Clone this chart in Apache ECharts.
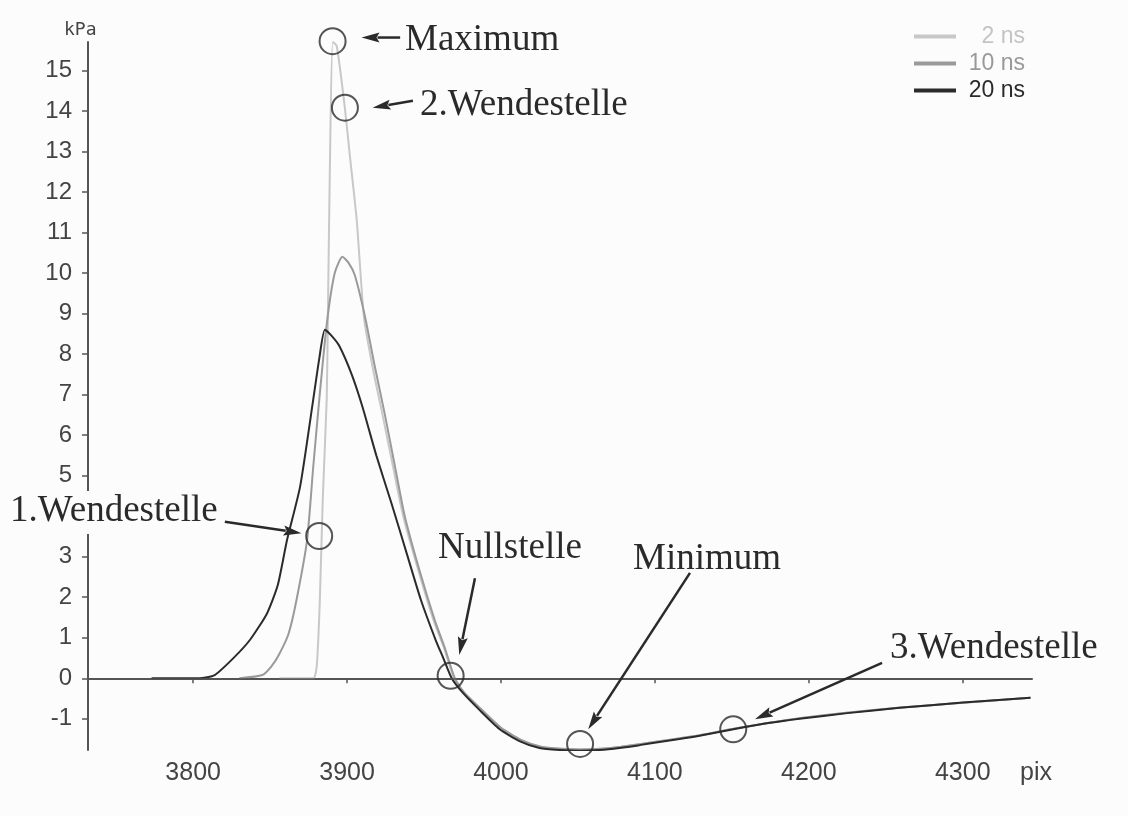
<!DOCTYPE html>
<html><head><meta charset="utf-8">
<script src="https://cdn.jsdelivr.net/npm/echarts@6/dist/echarts.min.js"></script>
<style>html,body{margin:0;padding:0;background:#fcfcfc}#c{width:1128px;height:816px}</style>
</head><body><div id="c"></div>
<script>
// ---- data (x in pix, y in kPa) ----
const xTicks = [3800, 3900, 4000, 4100, 4200, 4300];
const yTicks = [-1, 0, 1, 2, 3, 5, 6, 7, 8, 9, 10, 11, 12, 13, 14, 15];
const yTickMarks = [-1, 0, 1, 2, 3, 4, 5, 6, 7, 8, 9, 10, 11, 12, 13, 14, 15];

const ns20 = [
  [3773,0],[3804,0],[3814,0.08],[3826,0.49],[3837,0.95],[3848,1.6],[3855,2.3],[3861,3.41],
  [3869.5,4.73],[3878,6.87],[3882,7.9],[3885.6,8.6],[3890,8.45],[3895,8.2],[3903,7.5],[3910,6.7],
  [3919,5.5],[3929,4.3],[3939,3.05],[3948,1.93],[3957.5,0.95],[3962.5,0.5],
  [3968,0],[3975,-0.35],[3986,-0.78],[3999,-1.25],[4012,-1.55],[4025,-1.72],
  [4038,-1.77],[4051,-1.79],[4064,-1.77],[4077,-1.72],[4090,-1.65],[4103,-1.57],[4116,-1.5],
  [4129,-1.42],[4151,-1.26],[4175,-1.1],[4194,-1.0],[4225,-0.86],[4259,-0.73],[4300,-0.6],[4344,-0.48]
];
const ns10 = [
  [3830,0],[3845,0.08],[3851,0.3],[3856,0.6],[3862,1.1],[3867,1.9],[3874,3.4],[3878,5.2],
  [3882,6.9],[3887,8.8],[3892,10.0],[3897,10.4],[3901,10.25],[3905,9.95],[3911.5,8.95],[3918,7.7],
  [3924.6,6.5],[3931,5.25],[3937.5,4.0],[3947,2.67],[3957,1.43],[3963.5,0.75],[3970,0],[3976,-0.35],
  [3987,-0.76],[4000,-1.22],[4013,-1.52],[4026,-1.69],[4039,-1.74],[4052,-1.76],[4065,-1.74],
  [4078,-1.69],[4104,-1.55],[4130,-1.4],[4152,-1.24],[4195,-0.98],[4260,-0.72],[4344,-0.48]
];
const ns2 = [
  [3856,0],[3878,0],[3880.3,0.3],[3882.3,1.9],[3884.2,4.4],[3886.8,6.9],[3887.5,8.8],
  [3888.8,12.5],[3890.7,15.7],[3893.3,15.6],[3898.5,14.1],[3901.8,12.9],[3906.3,11.3],
  [3911,8.9],[3917,7.6],[3923.6,6.4],[3930,5.2],[3936.5,4.0],[3946,2.7],[3956,1.45],
  [3963,0.75],[3969.5,0],[3976,-0.35],[3987,-0.76],[4000,-1.22],[4013,-1.52],[4026,-1.69],
  [4039,-1.74],[4052,-1.76],[4065,-1.74],[4078,-1.69],[4104,-1.55],[4130,-1.4],[4152,-1.24],
  [4195,-0.98],[4260,-0.72],[4344,-0.48]
];

// annotation markers: circle point and arrow ends (data coords)
const annNames = ['Maximum', '2.Wendestelle', '1.Wendestelle', 'Nullstelle', 'Minimum', '3.Wendestelle'];
const annCircles = [[3890.6,15.72],[3898.6,14.08],[3881.9,3.51],[3967.3,0.06],[4051.4,-1.62],[4150.9,-1.26]];
const annArrowHead = [[3909.4,15.81],[3916.6,14.08],[3870.4,3.58],[3972.9,0.575],[4056.7,-1.26],[4165.0,-1.01]];
const annArrowTail = [[3934.5,15.81],[3942.8,14.25],[3820.6,3.86],[3983.1,2.47],[4122.8,2.6],[4247.6,0.38]];

// ---- layout / style ----
const labelPos = [[405,43],[420,108],[10,512],[438,551],[633,562],[890,651]];
const INK = '#2a2a2a';

const chart = echarts.init(document.getElementById('c'));
const noComma = v => String(v);

chart.setOption({
  backgroundColor: '#fcfcfc',
  animation: false,
  grid: {left: 88, right: 96, top: 42, bottom: 66},
  legend: {
    left: 909, top: 20, orient: 'vertical', itemWidth: 42, itemHeight: 4, itemGap: 4,
    icon: 'rect',
    data: [
      {name: '2 ns', textStyle: {color: '#c4c4c4'}},
      {name: '10 ns', textStyle: {color: '#999999'}},
      {name: '20 ns', textStyle: {color: '#2b2b2b'}}
    ],
    formatter: n => '{r|' + n + '}',
    textStyle: {fontFamily: 'Liberation Sans', fontSize: 23,
      rich: {r: {width: 64, align: 'right', fontSize: 23, lineHeight: 22, fontFamily: 'Liberation Sans'}}}
  },
  xAxis: {
    type: 'value', min: 3731.7, max: 4345,
    axisLine: {lineStyle: {color: '#555', width: 2}},
    axisTick: {show: true, length: 5, customValues: xTicks, lineStyle: {color: '#555', width: 1.5}},
    axisLabel: {customValues: xTicks, formatter: noComma, color: '#444', fontSize: 25, fontFamily: 'Liberation Sans', margin: 11},
    splitLine: {show: false}
  },
  yAxis: {
    type: 'value', min: -1.77, max: 15.7,
    axisLine: {lineStyle: {color: '#555', width: 2}},
    axisTick: {show: true, length: 6, customValues: yTickMarks, lineStyle: {color: '#555', width: 1.5}},
    axisLabel: {customValues: yTicks, formatter: noComma, color: '#444', fontSize: 24, fontFamily: 'Liberation Sans', margin: 16},
    splitLine: {show: false}
  },
  series: [
    {name: '2 ns', type: 'line', data: ns2, showSymbol: false, smooth: 0.2,
     lineStyle: {color: '#c8c8c8', width: 2}, itemStyle: {color: '#c8c8c8'}, z: 2},
    {name: '10 ns', type: 'line', data: ns10, showSymbol: false, smooth: 0.2,
     lineStyle: {color: '#9a9a9a', width: 2}, itemStyle: {color: '#9a9a9a'}, z: 3},
    {name: '20 ns', type: 'line', data: ns20, showSymbol: false, smooth: 0.2,
     lineStyle: {color: '#2b2b2b', width: 2}, itemStyle: {color: '#2b2b2b'}, z: 4,
     markLine: {silent: true, symbol: 'none', label: {show: false},
       lineStyle: {color: '#555', width: 1.5, type: 'solid'}, data: [{yAxis: 0}]}},
    {name: 'ann', type: 'scatter', data: annCircles, symbol: 'circle', symbolSize: 26, clip: false,
     itemStyle: {color: 'rgba(0,0,0,0)', borderColor: INK, borderWidth: 2}, z: 6}
  ]
});

// arrows and annotation texts, placed from data coordinates via the grid
const gfx = [];
annArrowTail.forEach((t, i) => {
  const p0 = chart.convertToPixel({gridIndex: 0}, t);
  const p1 = chart.convertToPixel({gridIndex: 0}, annArrowHead[i]);
  const dx = p1[0] - p0[0], dy = p1[1] - p0[1];
  const L = Math.hypot(dx, dy), ux = dx / L, uy = dy / L;
  const hl = 18, hw = 5;
  const bx = p1[0] - ux * hl, by = p1[1] - uy * hl;
  gfx.push({type: 'line', z: 90, shape: {x1: p0[0], y1: p0[1], x2: bx + ux * 2, y2: by + uy * 2},
    style: {stroke: INK, lineWidth: 2.5}});
  gfx.push({type: 'polygon', z: 90, shape: {points: [
    [p1[0], p1[1]], [bx - uy * hw, by + ux * hw], [bx + ux * 3, by + uy * 3], [bx + uy * hw, by - ux * hw]]},
    style: {fill: INK}});
});
annNames.forEach((n, i) => {
  gfx.push({
    type: 'text', left: labelPos[i][0], top: labelPos[i][1] - 21, z: 100,
    style: {text: n, fontFamily: 'Liberation Serif', fontSize: 37, fill: INK,
      backgroundColor: i === 2 ? '#fcfcfc' : null, padding: i === 2 ? [2, 0, 4, 0] : 0}
  });
});
gfx.push({type: 'text', left: 64, top: 21, z: 100,
  style: {text: 'kPa', fontFamily: 'DejaVu Sans Mono', fontSize: 18, fill: '#444'}});
gfx.push({type: 'text', left: 1020, top: 761, z: 100,
  style: {text: 'pix', fontFamily: 'Liberation Sans', fontSize: 25, fill: '#444'}});
chart.setOption({graphic: gfx});
</script></body></html>
